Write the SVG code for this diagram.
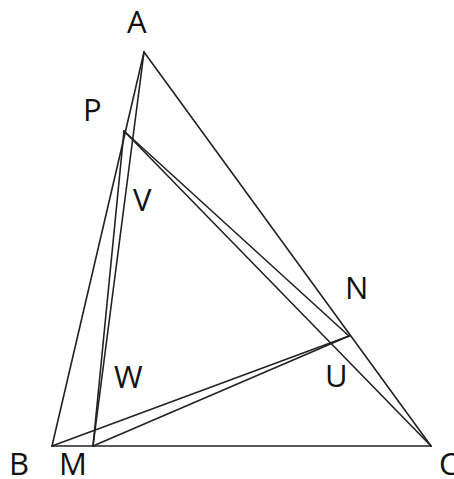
<svg xmlns="http://www.w3.org/2000/svg" width="454" height="479" viewBox="0 0 454 479">
<style>
.e{stroke:#222;stroke-width:1.6;fill:none;stroke-linecap:round}
.l{font-family:"Open Sans","Liberation Sans",sans-serif;font-size:31px;fill:#111}
</style>
<rect width="454" height="479" fill="#fff"/>
<g id="connectors">
<line class="e" x1="144" y1="52" x2="52" y2="446"/>
<line class="e" x1="144" y1="52" x2="431" y2="446"/>
<line class="e" x1="52" y1="446" x2="431" y2="446"/>
<line class="e" x1="144" y1="52" x2="93" y2="446"/>
<line class="e" x1="124" y1="131" x2="93" y2="446"/>
<line class="e" x1="124" y1="131" x2="349" y2="336"/>
<line class="e" x1="124" y1="131" x2="431" y2="446"/>
<line class="e" x1="52" y1="446" x2="349" y2="336"/>
<line class="e" x1="93" y1="446" x2="349" y2="336"/>
</g>
<g id="A"><text class="l" x="127" y="33">A</text></g>
<g id="P"><text class="l" x="83" y="121">P</text></g>
<g id="V"><text class="l" x="133" y="211">V</text></g>
<g id="N"><text class="l" x="345" y="299">N</text></g>
<g id="U"><text class="l" x="325" y="387">U</text></g>
<g id="W"><text class="l" x="114" y="388">W</text></g>
<g id="B"><text class="l" x="9" y="475">B</text></g>
<g id="M"><text class="l" x="59" y="475">M</text></g>
<g id="C"><text class="l" x="439" y="475">C</text></g>
</svg>
